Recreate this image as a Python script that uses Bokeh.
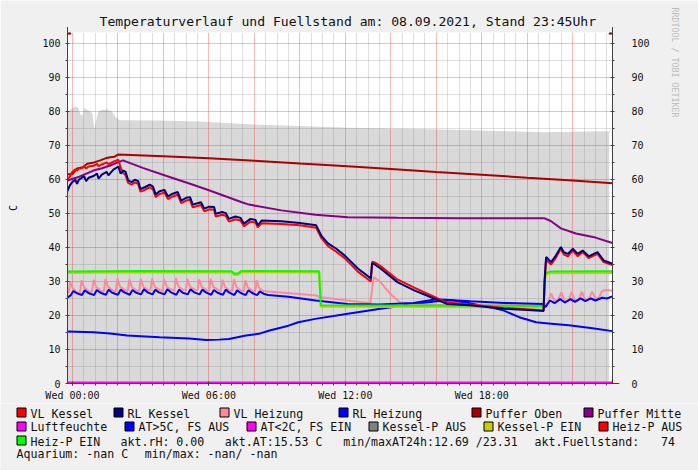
from bokeh.plotting import figure
from bokeh.layouts import column
from bokeh.models import (Range1d, LinearAxis, FixedTicker, Title, Arrow, NormalHead)
from bokeh.core.properties import value
from bokeh.embed import file_html
from bokeh.resources import INLINE

MONO = "DejaVu Sans Mono"

# ---------------- data (hours since Wed 00:00, values) ----------------
title_text = "Temperaturverlauf und Fuellstand am: 08.09.2021, Stand 23:45Uhr"
y_unit = "C"
watermark = "RRDTOOL / TOBI OETIKER"

x_label_ticks = [0, 6, 12, 18]
x_tick_labels = ["Wed 00:00", "Wed 06:00", "Wed 12:00", "Wed 18:00"]
y_ticks = [0, 10, 20, 30, 40, 50, 60, 70, 80, 90, 100]
y_minor = [5, 15, 25, 35, 45, 55, 65, 75, 85, 95]
grid_major_h = [0, 2, 4, 6, 8, 10, 12, 14, 16, 18, 20, 22]
grid_minor_h = [0.5, 1, 1.5, 2.5, 3, 3.5, 4.5, 5, 5.5, 6.5, 7, 7.5, 8.5, 9, 9.5,
                10.5, 11, 11.5, 12.5, 13, 13.5, 14.5, 15, 15.5, 16.5, 17, 17.5,
                18.5, 19, 19.5, 20.5, 21, 21.5, 22.5, 23, 23.5]

# Fuellstand (grey area)
fs_h = [-0.22, -0.09, 0.13, 0.26, 0.35, 0.44, 0.52, 0.65, 0.78, 0.87, 0.96, 1.05,
        1.13, 1.22, 1.39, 1.53, 1.66, 1.74, 1.87, 1.96, 2.09, 3.83, 5.58, 7.76,
        9.93, 12.1, 15.2, 17.9, 20.8, 22.6, 23.6]
fs_v = [79.4, 80.5, 81.5, 81.0, 79.0, 78.8, 81.0, 80.5, 80.0, 79.5, 75.0, 77.5,
        79.8, 80.3, 80.5, 80.6, 80.2, 80.0, 78.5, 78.0, 77.4, 77.3, 77.0, 76.2,
        75.7, 75.2, 74.8, 74.4, 73.9, 74.1, 74.2]

# Puffer Oben
po_h = [-0.22, 0.0, 0.2, 0.45, 0.65, 0.95, 1.22, 1.45, 1.66, 1.85, 2.0, 4.0, 6.0,
        8.0, 10.0, 12.1, 14.0, 16.0, 18.0, 20.0, 22.0, 23.75]
po_v = [61.5, 61.6, 63.2, 63.6, 64.6, 65.0, 65.6, 66.2, 66.5, 66.7, 67.3, 66.8, 66.2,
        65.5, 64.7, 63.9, 63.1, 62.2, 61.4, 60.5, 59.7, 58.9]

# Puffer Mitte
pm_h = [-0.22, 0.3, 0.92, 1.3, 1.66, 2.0, 2.22, 3.09, 4.14, 5.27, 6.0, 7.45, 7.76,
        9.19, 10.68, 12.11, 14.3, 17.0, 20.74, 21.05, 21.48, 22.14, 23.0, 23.75]
pm_v = [59.7, 60.8, 62.6, 63.3, 64.1, 65.0, 65.6, 63.4, 61.0, 58.5, 56.8, 53.3, 52.6,
        50.9, 49.6, 48.9, 48.7, 48.6, 48.6, 47.7, 45.6, 44.1, 42.9, 41.3]

# Kessel (VL red, RL navy) share the same time stamps
k_h = [-0.22, -0.12, -0.01, 0.13, 0.20, 0.28, 0.42, 0.52, 0.60, 0.71, 0.93, 1.08,
       1.15, 1.29, 1.51, 1.58, 1.80, 2.02, 2.12, 2.24, 2.34, 2.45, 2.60, 2.75, 2.89,
       2.99, 3.18, 3.40, 3.54, 3.66, 3.83, 4.05, 4.20, 4.41, 4.63, 4.78, 5.00, 5.17,
       5.29, 5.50, 5.65, 5.80, 6.01, 6.23, 6.30, 6.59, 6.74, 6.88, 7.17, 7.39, 7.54,
       7.83, 8.05, 8.15, 8.32, 9.19, 10.0, 10.72, 10.94, 11.24, 11.59, 11.98, 12.55,
       13.12, 13.18, 13.29, 13.55, 14.29, 15.03, 15.90, 16.47, 17.47, 18.95, 20.0,
       20.72, 20.76, 20.83, 21.05, 21.26, 21.48, 21.61, 21.79, 22.0, 22.22, 22.44,
       22.70, 23.09, 23.36, 23.75]
rl_kessel = [56.6, 58.2, 59.2, 59.9, 58.7, 59.9, 60.5, 60.9, 59.5, 60.5, 61.0, 61.7,
             60.2, 61.4, 62.2, 61.2, 62.9, 63.8, 61.7, 62.6, 62.2, 59.7, 59.2, 59.9,
             59.5, 57.2, 57.7, 58.5, 57.9, 55.6, 56.5, 56.9, 55.0, 55.8, 56.3, 53.8,
             54.6, 54.8, 52.6, 53.0, 53.3, 51.4, 52.0, 51.9, 49.9, 50.4, 50.1, 48.4,
             49.1, 48.7, 47.0, 48.4, 48.1, 46.5, 47.9, 47.7, 47.2, 46.5, 43.5, 41.2,
             39.7, 37.6, 33.8, 30.9, 35.4, 35.0, 33.8, 29.8, 27.4, 25.0, 23.4, 23.0,
             22.0, 21.6, 21.3, 30.3, 37.2, 35.7, 37.6, 40.1, 38.6, 38.1, 39.6, 38.1,
             39.1, 37.4, 38.6, 36.2, 35.2]
vl_kessel = [60.0, 60.8, 62.2, 63.0, 62.6, 63.2, 63.3, 63.9, 63.2, 63.8, 64.0, 64.6,
             63.9, 64.4, 65.0, 64.5, 65.2, 65.8, 63.5, 61.8, 61.2, 59.0, 58.5, 59.1,
             58.7, 56.4, 56.9, 57.7, 57.1, 54.8, 55.7, 56.1, 54.2, 55.0, 55.5, 53.0,
             53.8, 54.0, 51.8, 52.2, 52.5, 50.6, 51.2, 51.1, 49.1, 49.6, 49.3, 47.6,
             48.3, 47.9, 46.2, 47.6, 47.3, 45.9, 47.1, 46.9, 46.5, 45.8, 42.8, 40.4,
             38.8, 36.8, 32.9, 30.0, 35.8, 35.6, 34.5, 30.6, 28.2, 25.5, 23.8, 23.2,
             22.2, 21.8, 21.5, 29.0, 36.3, 35.0, 37.0, 39.6, 37.9, 37.4, 39.1, 37.4,
             38.6, 36.9, 38.1, 35.7, 34.8]

# VL Heizung (pink)
vh_h = [-0.22,
        -0.17, -0.10, 0.02, 0.20, 0.33, 0.40, 0.52, 0.75, 0.86, 0.93, 1.05, 1.30,
        1.38, 1.45, 1.57, 1.82, 1.91, 1.98, 2.10, 2.35, 2.43, 2.50, 2.62, 2.85,
        2.93, 3.00, 3.12, 3.35, 3.43, 3.50, 3.62, 3.88, 3.96, 4.03, 4.15, 4.40,
        4.48, 4.55, 4.67, 4.90, 4.98, 5.05, 5.17, 5.42, 5.50, 5.57, 5.69, 5.93,
        6.01, 6.08, 6.20, 6.45, 6.53, 6.60, 6.72, 6.95, 7.03, 7.10, 7.22, 7.45,
        7.53, 7.60, 7.72, 7.95, 8.03, 8.10, 8.22, 8.40,
        9.00, 10.0, 10.7, 11.0, 12.1, 13.1, 13.18, 13.25, 13.55, 13.95, 14.4, 15.0,
        17.0, 19.0, 20.75,
        20.9, 21.05, 21.2, 21.35, 21.5, 21.65, 21.8, 21.95, 22.1, 22.25, 22.4, 22.55,
        22.7, 22.85, 23.0, 23.15, 23.3, 23.5, 23.75]
vl_heizung = [28.0,
              26.6, 29.8, 28.0, 26.8, 26.7, 30.3, 28.2, 27.0, 27.0, 30.5, 28.3, 27.1,
              27.1, 30.6, 28.4, 27.2, 27.2, 30.8, 28.4, 27.3, 27.2, 30.6, 28.3, 27.2,
              27.2, 30.7, 28.4, 27.3, 27.3, 30.8, 28.5, 27.3, 27.3, 30.6, 28.4, 27.4,
              27.3, 30.9, 28.5, 27.4, 27.4, 30.7, 28.5, 27.4, 27.4, 30.6, 28.4, 27.3,
              27.3, 30.8, 28.4, 27.3, 27.3, 30.5, 28.3, 27.2, 27.2, 30.6, 28.3, 27.2,
              27.1, 30.3, 28.2, 27.1, 27.0, 30.3, 28.0, 27.2,
              26.8, 26.3, 25.9, 25.3, 24.4, 23.6, 28.0, 31.3, 29.8, 26.5, 23.9, 23.2,
              23.0, 23.1, 23.3,
              23.6, 26.5, 24.2, 24.5, 26.8, 24.2, 24.3, 26.9, 24.4, 24.6, 27.0, 24.6,
              24.8, 27.0, 25.0, 25.2, 27.3, 27.5, 27.3]

# RL Heizung (blue)
rh_h = [-0.22,
        -0.08, 0.04, 0.20, 0.42, 0.54, 0.70, 0.95, 1.07, 1.23, 1.47, 1.59, 1.75,
        2.00, 2.12, 2.28, 2.52, 2.64, 2.80, 3.02, 3.14, 3.30, 3.52, 3.64, 3.80,
        4.05, 4.17, 4.33, 4.57, 4.69, 4.85, 5.07, 5.19, 5.35, 5.59, 5.71, 5.87,
        6.10, 6.22, 6.38, 6.62, 6.74, 6.90, 7.12, 7.24, 7.40, 7.62, 7.74, 7.90,
        8.12, 8.24, 8.40,
        8.6, 9.5, 10.7, 12.1, 13.5, 15.0, 16.0, 17.5, 19.0, 20.7, 20.8, 21.0, 21.2,
        21.45, 21.65, 21.9, 22.1, 22.35, 22.55, 22.8, 23.0, 23.3, 23.5, 23.75]
rl_heizung = [25.3,
              25.9, 27.2, 26.5, 26.0, 27.4, 26.6, 26.0, 27.5, 26.7, 26.1, 27.6, 26.7,
              26.1, 27.6, 26.8, 26.1, 27.5, 26.7, 26.2, 27.7, 26.8, 26.2, 27.6, 26.8,
              26.2, 27.7, 26.8, 26.1, 27.6, 26.7, 26.2, 27.7, 26.8, 26.2, 27.6, 26.8,
              26.1, 27.5, 26.7, 26.1, 27.6, 26.7, 26.0, 27.4, 26.6, 26.0, 27.4, 26.6,
              26.0, 27.1, 26.4,
              26.0, 25.5, 24.4, 23.4, 23.2, 23.7, 24.8, 24.2, 23.7, 23.4, 22.4, 24.4,
              23.6, 24.8, 23.8, 24.8, 24.0, 25.0, 24.2, 25.0, 24.4, 25.2, 25.0, 25.6]

# Aussentemperatur (AT>5C, blue)
at_h = [-0.22, 0.92, 1.66, 2.4, 3.83, 5.14, 5.88, 6.45, 6.88, 7.63, 8.19, 8.63, 9.5,
        9.93, 10.68, 12.11, 13.55, 15.03, 16.03, 16.69, 17.47, 18.21, 18.95, 19.65,
        20.39, 21.05, 21.83, 22.79, 23.75]
at_v = [15.3, 15.1, 14.7, 14.1, 13.6, 13.2, 12.8, 12.9, 13.1, 14.1, 14.6, 15.5, 17.0,
        18.0, 19.0, 20.5, 22.0, 23.4, 24.2, 24.5, 23.6, 22.6, 21.5, 19.5, 18.0, 17.6,
        17.1, 16.3, 15.4]

# Pumpen
pump_h = [-0.22, 3.0, 7.0, 7.12, 7.3, 7.42, 10.85, 10.92, 15.0, 20.72, 20.8, 21.0, 23.75]
heizp_ein = [32.9, 33.1, 33.0, 32.3, 32.4, 33.1, 33.0, 23.0, 22.9, 22.8, 32.4, 32.9, 33.0]
kesselp_ein = [32.5, 32.7, 32.6, 31.9, 32.0, 32.7, 32.6, 22.6, 22.5, 22.4, 32.0, 32.4, 32.5]

# Luftfeuchte
rh_time = [-0.22, 23.75]
rh_v = [0.0, 0.0]

# Legend
legend_names = ["VL Kessel", "RL Kessel", "VL Heizung", "RL Heizung", "Puffer Oben",
                "Puffer Mitte", "Luftfeuchte", "AT>5C, FS AUS", "AT<2C, FS EIN",
                "Kessel-P AUS", "Kessel-P EIN", "Heiz-P AUS", "Heiz-P EIN"]
legend_colors = ["#ff0000", "#000080", "#ff8899", "#0000ff", "#aa0000", "#880088",
                 "#ff00ff", "#0000ff", "#ff00ff", "#808080", "#cccc00", "#ff0000",
                 "#00ff00"]
info_row3 = ["akt.rH: 0.00", "akt.AT:15.53 C", "min/maxAT24h:12.69 /23.31",
             "akt.Fuellstand:", "74"]
info_row4 = ["Aquarium: -nan C", "min/max: -nan/ -nan"]

# ---------------- main chart ----------------
X0, X1 = -0.218, 23.75
Y0, Y1 = 0, 103.2
BG = "#f0f0f0"
p = figure(width=698, height=403, x_range=Range1d(X0, X1), y_range=Range1d(Y0, Y1),
           output_backend="svg", toolbar_location=None, tools="",
           min_border_left=67, min_border_right=81, min_border_top=32,
           min_border_bottom=20)
p.background_fill_color = "white"
p.border_fill_color = BG
p.outline_line_color = None

p.title.text = title_text
p.title.align = "left"
p.title.offset = 32
p.title.standoff = 8
p.title.text_font = MONO
p.title.text_font_size = "13.1px"
p.title.text_font_style = "normal"
p.title.text_color = "#111111"

AX_COL = "#404040"


def style_axis(ax):
    ax.axis_line_color = AX_COL
    ax.major_tick_line_color = AX_COL
    ax.minor_tick_line_color = AX_COL
    ax.major_label_text_font = MONO
    ax.major_label_text_font_size = "10px"
    ax.major_label_text_color = "#111111"
    ax.major_tick_out = 2
    ax.major_tick_in = 2
    ax.minor_tick_out = 2
    ax.minor_tick_in = 0


yax = p.yaxis[0]
yax.ticker = FixedTicker(ticks=y_ticks, minor_ticks=y_minor)
style_axis(yax)
yax.major_label_standoff = 5
yax.axis_label = y_unit
yax.axis_label_text_font = MONO
yax.axis_label_text_font_size = "10px"
yax.axis_label_text_font_style = "normal"
yax.axis_label_text_color = "#111111"
yax.axis_label_standoff = 20

rax = LinearAxis(ticker=FixedTicker(ticks=y_ticks, minor_ticks=y_minor))
style_axis(rax)
rax.major_label_standoff = 17
p.add_layout(rax, "right")

wm = Title(text=watermark, align="left", offset=-25, standoff=34, text_font=MONO,
           text_font_size="8.3px", text_font_style="normal", text_color="#bdbdbd")
p.add_layout(wm, "right")

xax = p.xaxis[0]
xax.ticker = FixedTicker(ticks=x_label_ticks, minor_ticks=grid_minor_h + grid_major_h)
xax.major_label_overrides = {t: s for t, s in zip(x_label_ticks, x_tick_labels)}
style_axis(xax)
xax.major_label_standoff = 4

p.xgrid.ticker = FixedTicker(ticks=grid_major_h, minor_ticks=grid_minor_h)
p.ygrid.ticker = FixedTicker(ticks=y_ticks, minor_ticks=y_minor)
for g in (p.xgrid, p.ygrid):
    g.grid_line_color = "#ff0000"
    g.grid_line_alpha = 0.28
    g.minor_grid_line_color = "#808080"
    g.minor_grid_line_alpha = 0.25

p.varea(x=fs_h, y1=[0] * len(fs_h), y2=fs_v, fill_color="#d9d9d9", level="image")
p.line(rh_time, rh_v, line_color="#ff00ff", line_width=4)
p.line(at_h, at_v, line_color="#0000ff", line_width=2)
p.line(pump_h, kesselp_ein, line_color="#cccc00", line_width=2)
p.line(vh_h, vl_heizung, line_color="#ff8899", line_width=2)
p.line(rh_h, rl_heizung, line_color="#0000ff", line_width=2)
p.line(pump_h, heizp_ein, line_color="#00ff00", line_width=2)
p.line(pm_h, pm_v, line_color="#880088", line_width=2)
p.line(po_h, po_v, line_color="#aa0000", line_width=2)
p.line(k_h, vl_kessel, line_color="#ff0000", line_width=2)
p.line(k_h, rl_kessel, line_color="#000080", line_width=2)

AR = "#990000"
for xa in (X0, X1):
    p.add_layout(Arrow(end=NormalHead(size=7, fill_color=AR, line_color=AR),
                       x_start=xa, y_start=100, x_end=xa, y_end=104.8,
                       line_color=AX_COL, line_width=1))
p.add_layout(Arrow(end=NormalHead(size=7, fill_color=AR, line_color=AR),
                   x_start=23.0, y_start=0, x_end=24.05, y_end=0,
                   line_color=AX_COL, line_width=1))

# ---------------- legend strip (page pixel coordinates) ----------------
leg = figure(width=698, height=67, x_range=Range1d(0, 698), y_range=Range1d(470, 403),
             output_backend="svg", toolbar_location=None, tools="",
             x_axis_location=None, y_axis_location=None, min_border=0)
if "frame_align" in leg.properties():
    leg.frame_align = False
if "frame_align" in p.properties():
    p.frame_align = False
leg.background_fill_color = BG
leg.border_fill_color = BG
leg.outline_line_color = None
leg.grid.visible = False

legend_rows = [0, 0, 0, 0, 0, 0, 1, 1, 1, 1, 1, 1, 2]
legend_box_x = [16.5, 113.5, 219.5, 338.5, 471.5, 583.5,
                16.5, 124.5, 246.5, 368.5, 483.5, 598.5, 16.5]
box_top = [407.5, 421.5, 435.5]
text_base = [413.0, 426.5, 441.3, 453.3]

leg.quad(left=legend_box_x,
         right=[x + 9 for x in legend_box_x],
         top=[box_top[r] for r in legend_rows],
         bottom=[box_top[r] + 9 for r in legend_rows],
         fill_color=legend_colors, line_color="#000000", line_width=1)

tx = ([x + 13.5 for x in legend_box_x] + [120, 224.3, 342.7, 534, 660.5]
      + [16, 144.3])
ty = ([text_base[r] for r in legend_rows] + [text_base[2]] * len(info_row3)
      + [text_base[3]] * len(info_row4))
tt = legend_names + info_row3 + info_row4
leg.text(x=tx, y=ty, text=tt, text_font=value(MONO), text_font_size="11.6px",
         text_color="#111111", text_baseline="alphabetic", text_align="left")

open("out.html", "w").write(file_html(column(p, leg, spacing=0), INLINE))
